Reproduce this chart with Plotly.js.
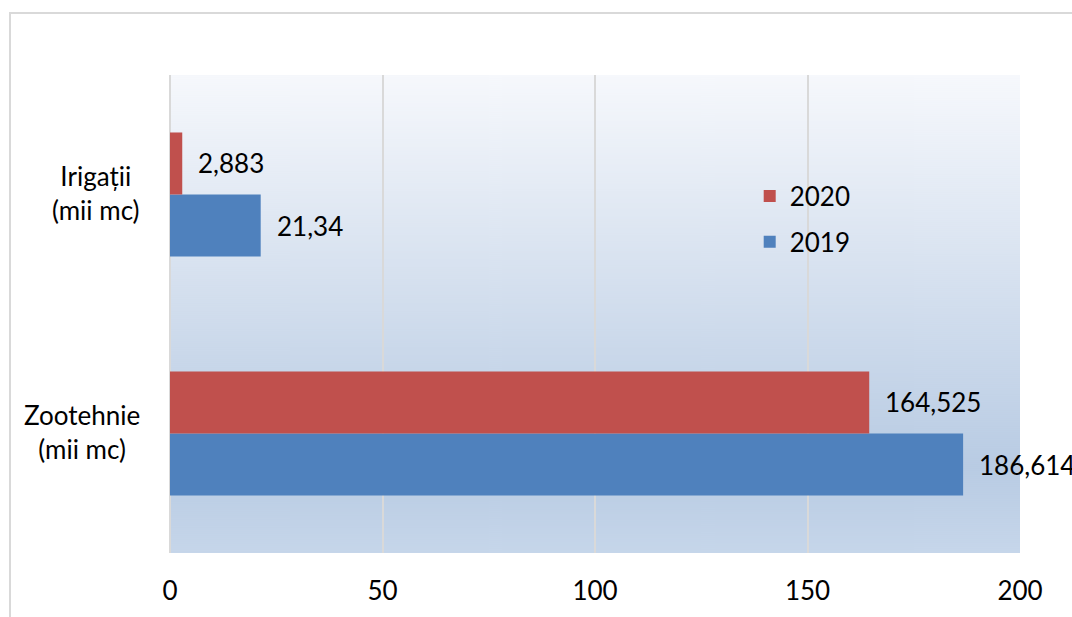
<!DOCTYPE html>
<html>
<head>
<meta charset="utf-8">
<script src="https://cdn.plot.ly/plotly-3.0.1.min.js"></script>
<style>
  html, body { margin:0; padding:0; background:#ffffff; overflow:hidden; width:1072px; height:617px; }
  #frame { position:absolute; left:9px; top:12px; width:2000px; height:2000px; border-left:2px solid #d9d9d9; border-top:2px solid #d9d9d9; }
  #chart { position:absolute; left:0; top:0; width:1072px; height:617px; }
</style>
</head>
<body>
<div id="frame"></div>
<div id="chart"></div>
<script>
// ---- data ----
const categories = ["Zootehnie\n(mii mc)", "Irigații\n(mii mc)"];
const seriesNames = ["2019", "2020"];
const values2019 = [186.614, 21.34];
const values2020 = [164.525, 2.883];
const xTicks = [0, 50, 100, 150, 200];
const colors = ["#4f81bd", "#c0504d"];

// gradient background image
function gradientURI() {
  const c = document.createElement('canvas');
  c.width = 4; c.height = 478;
  const g = c.getContext('2d');
  const grd = g.createLinearGradient(0, 0, 0, 478);
  grd.addColorStop(0, '#f6f8fc');
  grd.addColorStop(0.82, '#b8cbe3');
  grd.addColorStop(1, '#c6d6ea');
  g.fillStyle = grd;
  g.fillRect(0, 0, 4, 478);
  return c.toDataURL();
}

const catIdx = categories.map((c, i) => i);
const allSeries = [values2019, values2020];
const FS = 26;

const traces = allSeries.map((vals, s) => ({
  type: 'bar',
  orientation: 'h',
  name: seriesNames[s],
  legendgroup: seriesNames[s],
  legendrank: s === 0 ? 2 : 1,
  y: categories,
  x: vals,
  marker: { color: colors[s], line: { width: 0 } },
  hoverinfo: 'skip'
}));

const fnt = "Lato, 'Open Sans', sans-serif";
const annotations = [];
// data labels
allSeries.forEach((vals, s) => {
  vals.forEach((v, i) => {
    annotations.push({
      x: v, y: catIdx[i] + (s === 0 ? -0.13 : 0.13),
      xref: 'x', yref: 'y',
      text: String(v).replace('.', ','),
      showarrow: false, xanchor: 'left', yanchor: 'middle', xshift: 14,
      font: { family: fnt, size: FS, color: '#000000' }
    });
  });
});
// category labels (block right-aligned, lines centered)
categories.forEach((c, i) => {
  annotations.push({
    x: -0.033, y: catIdx[i], xref: 'paper', yref: 'y',
    text: c.split('\n').join('<br>'), align: 'center',
    showarrow: false, xanchor: 'right', yanchor: 'middle', yshift: 2,
    font: { family: fnt, size: FS, color: '#000000' }
  });
});

const layout = {
  width: 1072, height: 617,
  margin: { l: 170, r: 52, t: 75, b: 64 },
  paper_bgcolor: 'rgba(0,0,0,0)',
  plot_bgcolor: 'rgba(0,0,0,0)',
  barmode: 'group',
  bargap: 0.481,
  bargroupgap: 0,
  font: { family: fnt, size: FS, color: '#000000' },
  xaxis: {
    range: [0, 200],
    tickvals: xTicks,
    ticktext: xTicks.map(String),
    showgrid: true, gridcolor: '#d9d9d9', gridwidth: 2,
    zeroline: true, zerolinecolor: '#d9d9d9', zerolinewidth: 2,
    showline: false,
    ticks: 'outside', ticklen: 15, tickcolor: 'rgba(0,0,0,0)',
    tickfont: { family: fnt, size: FS, color: '#000000' },
    fixedrange: true
  },
  yaxis: {
    type: 'category',
    categoryorder: 'array', categoryarray: categories,
    showticklabels: false, showgrid: false, zeroline: false, showline: false,
    ticks: '', fixedrange: true
  },
  legend: {
    x: 0.682, y: 0.796, xanchor: 'left', yanchor: 'top',
    traceorder: 'grouped', tracegroupgap: 9,
    bgcolor: 'rgba(0,0,0,0)',
    font: { family: fnt, size: FS, color: '#000000' }
  },
  showlegend: true,
  images: [{
    source: gradientURI(), xref: 'paper', yref: 'paper',
    x: 0, y: 1, sizex: 1, sizey: 1, sizing: 'stretch', layer: 'below',
    xanchor: 'left', yanchor: 'top'
  }],
  annotations: annotations
};

Plotly.newPlot('chart', traces, layout, { displayModeBar: false, staticPlot: true });
</script>
</body>
</html>
